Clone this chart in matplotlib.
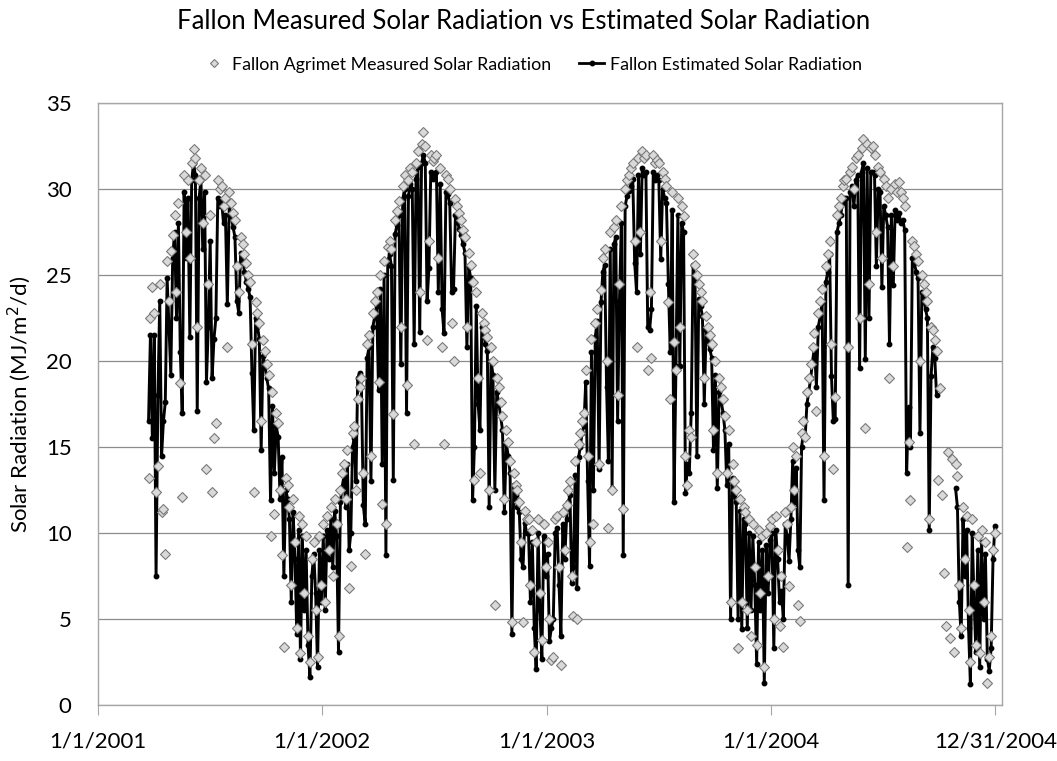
#!/usr/bin/env python3
"""
Fallon measured vs estimated solar radiation, 2001-2004
Values read by eye off the original chart, 10 readings per month
"""

import numpy as np
import pandas as pd
import matplotlib
matplotlib.use('Agg')
import matplotlib.pyplot as plt
from matplotlib.lines import Line2D

nan = np.nan
PER_MONTH = 10

# Agrimet measured solar radiation (MJ/m2/d), one row per month
measured_2001 = [
    nan, nan, nan, nan, nan, nan, nan, 13.2, 22.5, 24.3,       # Mar
    22.8, 12.4, 13.9, 24.5, 11.2, 11.4, 8.8, 25.8, 23.5, 26.4,  # Apr
    27.3, 28.5, 24.0, 29.2, 18.7, 12.1, 30.8, 27.5, 30.5, 26.0, # May
    31.5, 32.3, 31.8, 22.0, 30.5, 31.2, 28.0, 30.8, 13.7, 24.5, # Jun
    28.5, 12.4, 15.5, 16.4, 30.5, 30.0, 30.2, 29.0, 29.5, 20.8, # Jul
    29.8, 29.2, 28.6, 28.2, 25.5, 24.0, 27.2, 26.8, 26.2, 25.7, # Aug
    25.0, 24.6, 21.0, 12.4, 23.4, 22.8, 22.2, 16.5, 21.2, 20.6, # Sep
    19.8, 19.2, 9.8, 18.2, 11.1, 17.0, 16.4, 12.5, 8.7, 3.4,    # Oct
    13.2, 12.8, 11.5, 7.0, 12.0, 9.5, 4.5, 11.0, 3.0, 10.5,     # Nov
    6.5, 9.8, 4.0, 2.5, 8.5, 9.5, 5.5, 2.8, 9.8, 7.0,           # Dec
]
measured_2002 = [
    10.5, 6.0, 11.0, 9.0, 11.5, 7.5, 12.0, 10.5, 4.0, 12.5,
    13.5, 14.0, 12.0, 14.8, 6.8, 8.1, 15.8, 16.2, 12.5, 17.8,
    18.5, 19.0, 13.5, 8.8, 21.0, 21.5, 14.5, 22.8, 23.5, 24.0,
    18.8, 25.0, 11.7, 25.8, 10.5, 26.6, 27.0, 26.5, 16.9, 28.2,
    28.7, 29.3, 22.0, 30.2, 30.8, 18.6, 30.5, 31.2, 31.0, 15.2,
    31.5, 32.2, 24.0, 32.6, 33.3, 32.5, 21.2, 27.0, 32.0, 31.6,
    31.8, 32.0, 26.0, 31.2, 20.8, 15.2, 30.8, 30.6, 30.0, 22.2,
    20.0, 29.4, 29.0, 28.6, 28.2, 27.6, 27.2, 22.0, 26.3, 25.6,
    24.6, 13.1, 24.0, 19.0, 13.5, 22.8, 22.2, 21.8, 21.4, 12.5,
    20.8, 20.0, 5.8, 19.0, 18.5, 17.6, 16.8, 12.0, 16.0, 15.3,
    14.2, 4.8, 13.5, 12.8, 12.5, 11.8, 9.5, 4.8, 11.3, 10.8,
    10.8, 7.0, 10.2, 3.1, 9.5, 10.8, 6.5, 3.8, 10.5, 8.0,
]
measured_2003 = [
    9.5, 5.0, 2.6, 2.8, 10.8, 11.0, 8.0, 2.3, 11.2, 9.0,
    11.6, 12.5, 13.0, 7.5, 5.2, 14.2, 5.0, 15.2, 15.8, 16.5,
    17.0, 19.5, 14.5, 9.5, 21.3, 10.5, 22.2, 23.0, 14.0, 24.1,
    26.0, 26.5, 20.0, 10.3, 27.5, 12.5, 27.8, 28.2, 18.0, 24.5,
    29.0, 11.4, 30.0, 30.5, 30.8, 31.2, 31.5, 27.0, 20.8, 31.8,
    27.5, 32.2, 31.8, 32.0, 19.5, 24.0, 20.2, 32.0, 31.5, 31.7,
    31.5, 27.0, 31.0, 30.6, 30.2, 23.4, 17.8, 29.8, 21.1, 19.5,
    29.5, 22.0, 29.0, 28.4, 14.5, 12.8, 16.0, 15.6, 26.2, 25.6,
    25.0, 24.5, 24.0, 23.5, 19.0, 22.6, 22.0, 21.5, 21.0, 16.0,
    20.0, 13.5, 19.0, 18.5, 17.8, 16.8, 13.5, 16.0, 6.0, 14.0,
    13.0, 12.5, 3.3, 12.0, 6.0, 11.5, 11.2, 5.5, 10.8, 4.0,
    10.5, 8.0, 3.5, 10.2, 6.5, 9.8, 2.2, 10.0, 7.5, 10.4,
]
measured_2004 = [
    10.8, 5.0, 11.0, 9.0, 4.6, 7.5, 3.4, 11.2, 10.5, 6.9,
    11.5, 15.0, 12.5, 14.5, 5.8, 4.9, 15.8, 16.5, 15.6, 18.2,
    19.0, 19.8, 20.8, 21.6, 17.1, 22.8, 23.5, 24.2, 14.5, 25.5,
    26.2, 27.0, 21.0, 13.7, 17.9, 28.5, 29.0, 29.5, 30.2, 30.5,
    30.6, 20.8, 31.0, 31.3, 30.0, 31.8, 32.0, 22.5, 32.4, 32.9,
    16.1, 32.6, 24.5, 32.4, 32.5, 32.0, 27.5, 31.3, 31.0, 26.0,
    30.6, 30.2, 29.5, 19.0, 30.0, 25.5, 30.3, 29.8, 30.4, 29.8,
    29.5, 29.0, 9.2, 15.3, 11.9, 27.0, 26.7, 26.2, 25.8, 20.0,
    25.0, 24.5, 24.0, 23.5, 10.8, 22.0, 21.8, 21.2, 20.6, 13.1,
    18.4, 12.2, 7.7, 4.6, 14.7, 3.9, 14.3, 3.1, 14.0, 13.3,
    7.0, 4.5, 11.5, 8.5, 11.0, 5.5, 2.5, 10.8, 7.0, 3.5,
    9.8, 3.0, 10.2, 6.0, 9.5, 1.3, 2.8, 4.0, 9.0, 10.0,
]

# estimated solar radiation, same dates (nan = no estimate)
estimated_2001 = [
    nan, nan, nan, nan, nan, nan, nan, 16.5, 21.5, 15.5,
    21.5, 7.5, 18.0, 23.5, 14.5, 16.5, 17.6, 24.8, 22.0, 19.2,
    26.0, 27.5, 22.5, 28.0, 20.5, 17.0, 29.8, 26.0, 29.5, 21.4,
    30.5, 31.5, 30.8, 17.1, 29.5, 30.5, 26.5, 29.8, 18.8, 22.0,
    27.0, 19.0, 21.3, 22.5, 29.5, 29.0, 29.3, 28.0, 28.5, 23.3,
    29.0, 28.4, 27.8, 27.2, 23.5, 22.8, 26.3, 25.9, 25.2, 24.6,
    24.2, 23.7, 19.3, 16.0, 22.5, 22.0, 21.3, 14.8, 20.3, 19.8,
    19.0, 18.4, 11.9, 17.4, 13.5, 16.2, 15.6, 12.0, 14.4, 7.5,
    12.5, 12.0, 10.8, 6.0, 11.2, 8.5, 4.1, 10.2, 2.7, 9.8,
    5.5, 9.0, 3.5, 1.6, 7.5, 8.8, 6.5, 2.2, 9.0, 6.0,
]
estimated_2002 = [
    9.8, 5.5, 10.2, 8.5, 10.8, 8.0, 11.3, 9.8, 3.1, 11.8,
    12.7, 13.3, 11.5, 14.0, 9.0, 10.0, 15.0, 15.5, 13.0, 19.0,
    19.3, 18.5, 11.6, 10.5, 20.2, 20.8, 13.0, 22.0, 22.6, 23.2,
    18.3, 24.2, 14.0, 25.0, 8.7, 25.8, 26.2, 25.5, 13.1, 27.4,
    27.9, 28.5, 19.8, 29.4, 30.0, 17.0, 29.6, 30.3, 30.0, 21.0,
    30.6, 31.3, 21.7, 31.5, 32.0, 31.5, 23.5, 25.4, 31.0, 30.6,
    30.8, 31.0, 24.0, 30.3, 23.0, 21.6, 29.8, 29.7, 29.2, 24.0,
    24.2, 28.5, 28.1, 27.7, 27.3, 26.8, 26.3, 20.8, 25.5, 24.8,
    11.9, 15.0, 23.2, 17.5, 16.0, 22.0, 21.5, 21.0, 20.6, 11.5,
    20.0, 19.2, 12.5, 18.2, 17.6, 16.8, 16.0, 11.2, 15.2, 14.5,
    13.5, 4.1, 12.8, 12.2, 11.5, 11.2, 8.5, 8.0, 10.6, 10.0,
    10.0, 6.0, 9.5, 4.5, 2.1, 10.0, 5.5, 2.7, 9.8, 7.5,
]
estimated_2003 = [
    8.8, 3.7, 4.5, 5.0, 10.0, 10.3, 7.0, 4.0, 10.5, 8.5,
    10.8, 11.8, 12.2, 7.1, 8.0, 13.4, 6.8, 14.4, 15.0, 15.8,
    16.2, 18.8, 13.0, 8.1, 20.5, 12.5, 21.4, 22.3, 13.7, 23.4,
    25.2, 25.6, 18.5, 14.2, 26.5, 12.6, 26.8, 27.2, 16.5, 23.5,
    28.0, 8.7, 29.0, 29.6, 29.9, 30.2, 30.6, 25.7, 24.0, 30.8,
    26.2, 31.2, 30.8, 31.0, 22.0, 21.8, 23.0, 31.0, 30.5, 30.8,
    30.5, 25.9, 30.0, 29.5, 29.2, 24.5, 20.5, 28.8, 11.8, 19.7,
    28.5, 19.7, 28.0, 27.5, 12.3, 14.0, 13.5, 17.0, 25.6, 24.8,
    14.5, 23.6, 23.2, 22.6, 17.5, 21.8, 21.2, 20.7, 20.2, 14.8,
    19.2, 12.6, 18.2, 17.7, 17.0, 16.0, 12.8, 15.2, 5.0, 13.2,
    12.2, 11.8, 5.0, 11.3, 4.4, 10.8, 10.5, 4.5, 10.0, 5.5,
    9.8, 7.0, 2.4, 9.5, 5.5, 9.0, 1.3, 9.3, 6.5, 9.6,
]
estimated_2004 = [
    10.0, 3.3, 10.2, 8.5, 6.0, 6.6, 5.0, 10.5, 9.8, 8.4,
    10.8, 14.2, 11.8, 13.8, 9.0, 8.0, 15.0, 15.8, 15.6, 17.5,
    18.2, 19.0, 20.0, 20.8, 18.5, 22.0, 22.6, 23.4, 11.9, 24.6,
    25.2, 26.2, 19.1, 16.5, 16.6, 27.5, 28.0, 28.5, 29.2, 29.5,
    29.5, 7.0, 29.8, 30.2, 29.0, 30.5, 30.8, 19.6, 31.0, 31.5,
    20.1, 31.2, 22.5, 31.0, 31.0, 30.8, 25.5, 30.0, 29.8, 24.3,
    29.0, 28.5, 27.8, 21.0, 28.5, 24.4, 28.8, 28.2, 28.6, 28.0,
    28.2, 27.6, 13.5, 17.3, 15.0, 26.0, 25.7, 25.2, 24.8, 15.8,
    24.0, 23.6, 23.0, 22.5, 10.2, 19.1, 20.8, 20.2, 18.0, nan,
    nan, nan, nan, nan, nan, nan, nan, nan, 12.6, 11.5,
    6.0, 4.0, 10.8, 7.5, 10.2, 4.5, 1.2, 10.0, 6.0, 3.1,
    9.0, 2.2, 9.5, 5.0, 8.8, 2.7, 2.0, 3.3, 8.5, 10.4,
]

TICK_DATES = ["2001-01-01", "2002-01-01", "2003-01-01", "2004-01-01", "2004-12-31"]
TICK_LABELS = ["1/1/2001", "1/1/2002", "1/1/2003", "1/1/2004", "12/31/2004"]

FONT = ['Lato', 'DejaVu Sans']


def month_dates(year, first_month, n_months):
    """Spread PER_MONTH readings evenly through each month"""
    dates = []
    for m in range(first_month, first_month + n_months):
        start = pd.Timestamp(year, m, 1)
        ndays = start.days_in_month
        offsets = (np.arange(PER_MONTH) + 0.5) * ndays / PER_MONTH
        dates.extend(start + pd.to_timedelta(offsets, unit='D'))
    return dates


def main():
    plt.rcParams['font.family'] = FONT

    dates = (month_dates(2001, 3, 10) + month_dates(2002, 1, 12)
             + month_dates(2003, 1, 12) + month_dates(2004, 1, 12))
    measured = np.array(measured_2001 + measured_2002 + measured_2003 + measured_2004)
    estimated = np.array(estimated_2001 + estimated_2002 + estimated_2003 + estimated_2004)

    fig = plt.figure(figsize=(10.57, 7.61), dpi=100)
    ax = fig.add_axes([0.0927, 0.0736, 0.8553, 0.7911])

    # estimated line first, measured diamonds on top
    ax.plot(dates, estimated, color='black', linewidth=2.1, marker='o',
            markersize=3.2, zorder=2)
    ax.plot(dates, measured, linestyle='none', marker='D', markersize=4.8,
            markerfacecolor='#d9d9d9', markeredgecolor='#7a7a7a',
            markeredgewidth=0.8, zorder=3)

    ax.set_ylim(0, 35)
    ax.set_yticks(np.arange(0, 36, 5))
    ax.set_xlim(pd.Timestamp("2001-01-01"), pd.Timestamp("2005-01-11"))
    ax.set_xticks([pd.Timestamp(d) for d in TICK_DATES])
    ax.set_xticklabels(TICK_LABELS)

    ax.grid(axis='y', color='#8c8c8c', linewidth=0.9)
    ax.set_axisbelow(True)
    for side in ax.spines.values():
        side.set_color('#a6a6a6')
        side.set_linewidth(1.0)
    ax.tick_params(axis='x', direction='out', length=7, color='#a6a6a6',
                   labelsize=16, pad=12)
    ax.tick_params(axis='y', direction='out', length=0, labelsize=16, pad=19)
    ax.set_ylabel('Solar Radiation (MJ/m$^2$/d)', fontsize=16, labelpad=9)

    fig.suptitle('Fallon Measured Solar Radiation vs Estimated Solar Radiation',
                 x=0.495, y=0.988, fontsize=18.5, va='top')

    handles = [
        Line2D([], [], linestyle='none', marker='D', markersize=4.5,
               markerfacecolor='#d9d9d9', markeredgecolor='#7a7a7a',
               markeredgewidth=0.8),
        Line2D([], [], color='black', linewidth=2.0, marker='o', markersize=3.2),
    ]
    labels = ['Fallon Agrimet Measured Solar Radiation',
              'Fallon Estimated Solar Radiation']
    fig.legend(handles, labels, loc='center', bbox_to_anchor=(0.503, 0.915),
               ncol=2, frameon=False, fontsize=12.8, handlelength=1.4,
               columnspacing=1.6, handletextpad=0.3)

    fig.savefig('out.png', dpi=100)
    plt.close(fig)


if __name__ == "__main__":
    main()
